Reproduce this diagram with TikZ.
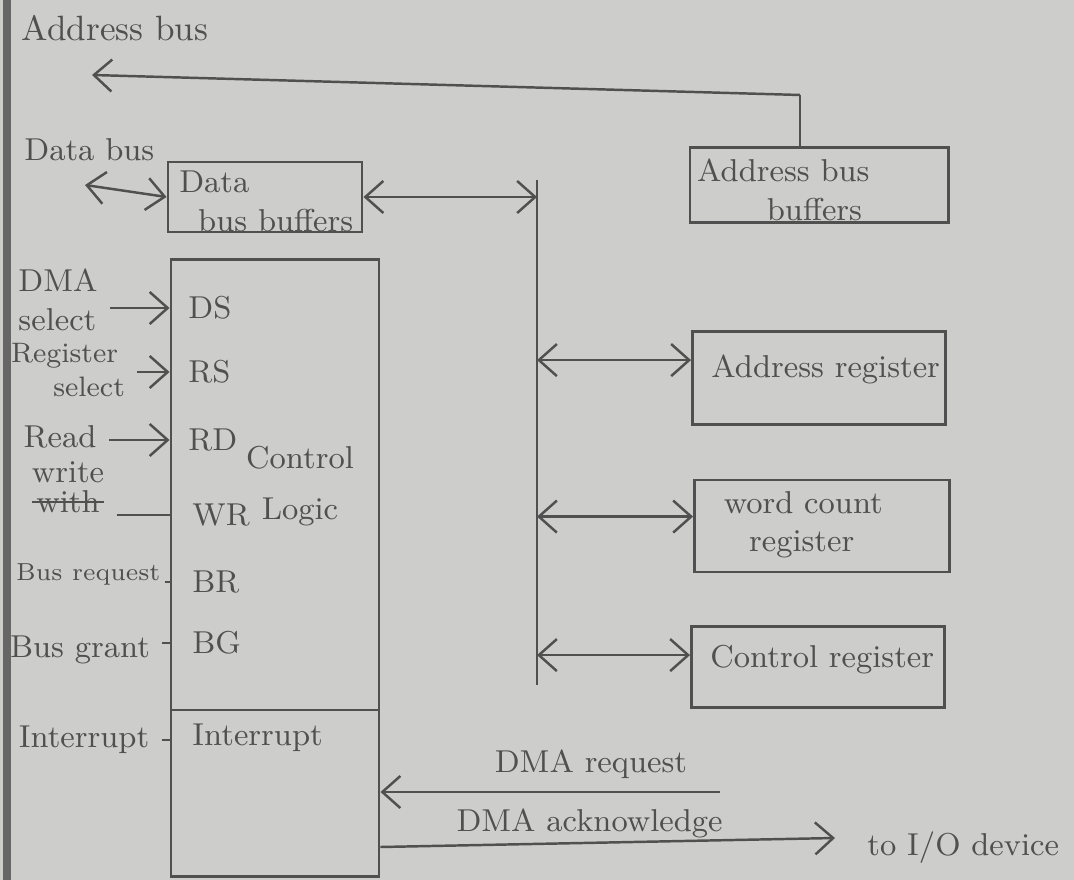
\documentclass[tikz,border=0pt]{standalone}
\usepackage{tikz}
\usetikzlibrary{arrows.meta,positioning}
\definecolor{paper}{RGB}{205,205,203}
\definecolor{pencil}{RGB}{80,80,80}

\begin{document}
\begin{tikzpicture}[x=0.01cm,y=-0.01cm,
        every node/.style={text=pencil,font=\small},
        box/.style={draw=pencil,line width=0.8pt,inner sep=0pt},
        wire/.style={draw=pencil,line width=0.7pt},
        arr/.style={wire,-{Straight Barb[length=1.8mm,width=3.2mm]}},
        darr/.style={wire,{Straight Barb[length=1.8mm,width=3.2mm]}-{Straight Barb[length=1.8mm,width=3.2mm]}}]
        % paper
        \fill[paper] (0,0) rectangle (1074,880);
        \useasboundingbox (0,0) rectangle (1074,880);
        \draw[gray!80!black,line width=2pt] (7,0) -- (7,880);

        % buses and buffers
        \node[font=\normalsize] (abus) at (115,28) {Address bus};
        \node[anchor=west] (dbus) at (12,150) {Data bus};
        \coordinate (abusend) at (92,75);
        \coordinate (dbusend) at (85,185);
        \coordinate (abcorner) at (800,95);
        \node[box,minimum width=1.94cm,minimum height=0.7cm] (dbb) at (265,197) {};
        \node[anchor=north west,align=left,inner sep=0pt] at ([xshift=1.2mm,yshift=-1mm]dbb.north west) {Data\\\hspace{0.6em}bus buffers};
        \node[box,minimum width=2.58cm,minimum height=0.75cm] (abb) at (819,185) {};
        \node[anchor=north west,align=left,inner sep=0pt] at ([xshift=0.8mm,yshift=-1.2mm]abb.north west) {Address bus\\\hspace{2.2em}buffers};

        % internal bus
        \coordinate (bustop) at (537,180);
        \coordinate (busbot) at (537,685);
        \draw[wire] (bustop) -- (busbot);

        % registers
        \node[box,minimum width=2.53cm,minimum height=0.93cm] (areg) at (819,378) {};
        \node[anchor=north west] at ([xshift=0.8mm,yshift=-1.2mm]areg.north west) {Address register};
        \node[box,minimum width=2.55cm,minimum height=0.92cm] (wreg) at (822,526) {};
        \node[anchor=north west,align=left,inner sep=0pt] at ([xshift=3mm,yshift=-1.2mm]wreg.north west) {word count\\\hspace{0.8em}register};
        \node[box,minimum width=2.53cm,minimum height=0.81cm] (creg) at (818,667) {};
        \node[anchor=north west] at ([xshift=0.8mm,yshift=-0.8mm]creg.north west) {Control register};

        \draw[wire] (abb.north -| abcorner) -- (abcorner);
        \draw[arr] (abcorner) -- (abusend);
        \draw[darr] (dbb.west) -- (dbusend);
        \draw[darr] (dbb.east) -- (dbb.east -| bustop);
        \draw[darr] ([yshift=-0.3cm]areg.north west -| bustop) -- ([yshift=-0.3cm]areg.north west);
        \draw[darr] ([yshift=-0.38cm]wreg.north west -| bustop) -- ([yshift=-0.38cm]wreg.north west);
        \draw[darr] ([yshift=-0.3cm]creg.north west -| bustop) -- ([yshift=-0.3cm]creg.north west);

        % control logic block
        \node[box,minimum width=2.08cm,minimum height=6.17cm] (cl) at (275,568) {};
        \draw[wire] (cl.west |- 0,710) -- (cl.east |- 0,710);
        \node (ctl) at (300,458) {Control};
        \node (lgc) at (300,512) {Logic};
        \node[anchor=west] (intr) at (180,738) {Interrupt};

        % pins
        \node[anchor=west] (ds) at (176,308) {DS};
        \node[anchor=west] (rs) at (176,372) {RS};
        \node[anchor=west] (rd) at (176,440) {RD};
        \node[anchor=west] (wr) at (180,515) {WR};
        \node[anchor=west] (br) at (180,582) {BR};
        \node[anchor=west] (bg) at (180,643) {BG};

        % pin signals
        \node[align=left] (dsel) at (58,300) {DMA\\select};
        \node[align=left,font=\footnotesize] (rsel) at (68,370) {Register\\\hspace{1.5em}select};
        \node (read) at (60,437) {Read};
        \node (wrt) at (68,472) {write};
        \node[inner sep=1pt] (wth) at (68,502) {with};
        \draw[wire] (wth.west) -- (wth.east);
        \node[font=\scriptsize,anchor=west,inner sep=1pt] (breq) at (12,574) {Bus request};
        \node (bgnt) at (80,650) {Bus grant};
        \node (intl) at (84,740) {Interrupt};
        \draw[arr] (dsel.east |- ds) -- (cl.west |- ds);
        \draw[arr] (rsel.east |- rs) -- (cl.west |- rs);
        \draw[arr] (read.east |- rd) -- (cl.west |- rd);
        \draw[wire] (wrt.east |- wr) -- (cl.west |- wr);
        \draw[wire] (breq.east |- br) -- (cl.west |- br);
        \draw[wire] (bgnt.east |- bg) -- (cl.west |- bg);
        \draw[wire] (intl.east) -- (cl.west |- intl.east);

        % I/O device side
        \coordinate (reqstart) at (720,792);
        \coordinate (ackend) at (835,838);
        \draw[arr] (reqstart) -- node[above,pos=0.38] {DMA request} (cl.east |- reqstart);
        \draw[arr] (cl.east |- 0,847) -- node[above,pos=0.46,inner sep=1pt] {DMA acknowledge} (ackend);
        \node[right=2mm of ackend,anchor=west,yshift=-1mm] (iodev) {to I/O device};
\end{tikzpicture}
\end{document}
